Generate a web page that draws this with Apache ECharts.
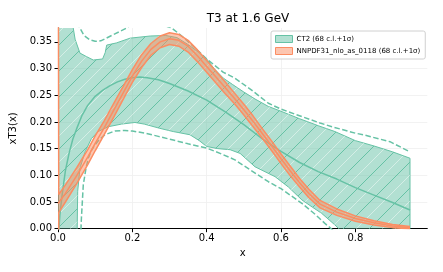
<!DOCTYPE html>
<html><head><meta charset="utf-8">
<script src="https://cdn.jsdelivr.net/npm/echarts@6/dist/echarts.min.js"></script>
<style>html,body{margin:0;padding:0;background:#fff}#c{width:443px;height:272px}</style>
</head><body><div id="c"></div>
<script>
// ---- tick labels ----
const xTicks = [0, 0.2, 0.4, 0.6, 0.8];
const xTickLabels = ['0.0', '0.2', '0.4', '0.6', '0.8'];
const yTicks = [0, 0.05, 0.1, 0.15, 0.2, 0.25, 0.3, 0.35];
const yTickLabels = ['0.00', '0.05', '0.10', '0.15', '0.20', '0.25', '0.30', '0.35'];

// ---- CT2 central ----
const ctCenX = [0.002, 0.005, 0.01, 0.015, 0.02, 0.03, 0.04, 0.05, 0.065, 0.08, 0.1, 0.12, 0.14, 0.16, 0.18, 0.2, 0.22, 0.24, 0.27, 0.3, 0.35, 0.4, 0.45, 0.5, 0.55, 0.6, 0.65, 0.7, 0.75, 0.8, 0.85, 0.9, 0.947];
const ctCenY = [-0.005, 0.025, 0.057, 0.084, 0.109, 0.142, 0.168, 0.187, 0.213, 0.231, 0.248, 0.259, 0.268, 0.275, 0.28, 0.283, 0.284, 0.283, 0.279, 0.272, 0.258, 0.241, 0.219, 0.195, 0.168, 0.145, 0.124, 0.107, 0.093, 0.077, 0.063, 0.049, 0.035];
// ---- CT2 68 c.l. band ----
const ctUpX = [0, 0.02, 0.035, 0.041, 0.046, 0.059, 0.075, 0.095, 0.12, 0.127, 0.131, 0.157, 0.194, 0.248, 0.29, 0.32, 0.35, 0.38, 0.4, 0.42, 0.445, 0.47, 0.5, 0.53, 0.566, 0.6, 0.65, 0.7, 0.745, 0.8, 0.85, 0.9, 0.947];
const ctUpY = [1.2, 0.7, 0.45, 0.376, 0.355, 0.329, 0.323, 0.316, 0.318, 0.33, 0.344, 0.348, 0.357, 0.361, 0.362, 0.358, 0.345, 0.33, 0.318, 0.3, 0.282, 0.27, 0.256, 0.243, 0.229, 0.22, 0.206, 0.193, 0.182, 0.165, 0.155, 0.144, 0.132];
const ctLoX = [0, 0.03, 0.051, 0.053, 0.059, 0.073, 0.09, 0.108, 0.135, 0.171, 0.207, 0.232, 0.274, 0.31, 0.355, 0.38, 0.4, 0.43, 0.463, 0.49, 0.53, 0.584, 0.62, 0.656, 0.685, 0.709, 0.745, 0.8, 0.9, 0.947];
const ctLoY = [-0.5, -0.3, -0.03, 0.07, 0.113, 0.144, 0.169, 0.182, 0.191, 0.196, 0.199, 0.196, 0.188, 0.182, 0.176, 0.165, 0.154, 0.15, 0.148, 0.141, 0.116, 0.0975, 0.078, 0.054, 0.04, 0.029, 0.007, -0.03, -0.08, -0.1];
// ---- CT2 1 sigma (dashed) ----
const ctSigUpX = [0, 0.03, 0.05, 0.059, 0.07, 0.085, 0.1, 0.115, 0.13, 0.153, 0.185, 0.2, 0.25, 0.297, 0.306, 0.34, 0.382, 0.4, 0.445, 0.476, 0.52, 0.566, 0.6, 0.656, 0.705, 0.737, 0.8, 0.821, 0.893, 0.947];
const ctSigUpY = [1.0, 0.5, 0.39, 0.376, 0.362, 0.354, 0.351, 0.352, 0.357, 0.365, 0.376, 0.385, 0.39, 0.378, 0.376, 0.357, 0.33, 0.318, 0.293, 0.282, 0.26, 0.235, 0.224, 0.21, 0.198, 0.191, 0.179, 0.176, 0.163, 0.144];
const ctSigLoX = [0, 0.04, 0.06, 0.063, 0.068, 0.075, 0.0815, 0.09, 0.0995, 0.11, 0.126, 0.153, 0.18, 0.2, 0.234, 0.27, 0.31, 0.35, 0.4, 0.44, 0.476, 0.52, 0.566, 0.6, 0.656, 0.69, 0.718, 0.74, 0.8, 0.947];
const ctSigLoY = [-0.6, -0.3, -0.03, 0.02, 0.082, 0.112, 0.132, 0.147, 0.157, 0.166, 0.176, 0.183, 0.184, 0.183, 0.179, 0.173, 0.166, 0.159, 0.151, 0.14, 0.129, 0.109, 0.088, 0.075, 0.0476, 0.028, 0.01, -0.003, -0.04, -0.12];

// ---- NNPDF31_nlo_as_0118 ----
const nnX   = [0, 0.002, 0.02, 0.05, 0.08, 0.1, 0.125, 0.15, 0.175, 0.2, 0.225, 0.25, 0.275, 0.3, 0.325, 0.35, 0.375, 0.4, 0.425, 0.45, 0.475, 0.5, 0.525, 0.55, 0.575, 0.6, 0.625, 0.65, 0.675, 0.705, 0.75, 0.8, 0.85, 0.9, 0.947];
const nnCen = [0.047, 0.047, 0.066, 0.099, 0.134, 0.16, 0.19, 0.222, 0.254, 0.286, 0.314, 0.336, 0.35, 0.356, 0.353, 0.342, 0.324, 0.304, 0.284, 0.264, 0.244, 0.223, 0.201, 0.178, 0.155, 0.131, 0.108, 0.086, 0.066, 0.046, 0.031, 0.019, 0.011, 0.005, 0.002];
const nnUp  = [0.9, 0.064, 0.082, 0.114, 0.148, 0.174, 0.203, 0.235, 0.266, 0.298, 0.326, 0.347, 0.361, 0.367, 0.364, 0.353, 0.335, 0.315, 0.295, 0.275, 0.254, 0.233, 0.211, 0.187, 0.164, 0.14, 0.117, 0.094, 0.074, 0.053, 0.037, 0.024, 0.015, 0.008, 0.004];
const nnLo  = [-0.5, 0.03, 0.05, 0.084, 0.12, 0.146, 0.177, 0.209, 0.242, 0.274, 0.302, 0.325, 0.339, 0.345, 0.342, 0.331, 0.313, 0.293, 0.273, 0.253, 0.234, 0.213, 0.191, 0.169, 0.146, 0.122, 0.099, 0.078, 0.058, 0.039, 0.025, 0.014, 0.007, 0.002, 0.0];

const ctName = 'CT2 (68 c.l.+1σ)';
const nnName = 'NNPDF31_nlo_as_0118 (68 c.l.+1σ)';
const GREEN = '#66c2a5', ORANGE = '#fc8d62';
const FONT = 'DejaVu Sans';

function hatch(lineColor, altColor, P) {
  const c = document.createElement('canvas');
  c.width = P; c.height = P;
  const g = c.getContext('2d');
  g.lineWidth = 1;
  if (altColor) {
    g.strokeStyle = altColor;
    for (let k = -1; k <= 2; k++) { g.beginPath(); g.moveTo(k * P - P / 2, P); g.lineTo(k * P + P / 2, 0); g.stroke(); }
  }
  g.strokeStyle = lineColor;
  for (let k = -1; k <= 1; k++) { g.beginPath(); g.moveTo(k * P, P); g.lineTo(k * P + P, 0); g.stroke(); }
  return c;
}
const greenHatch = hatch('rgba(102,194,165,1)', 'rgba(255,255,255,0.45)', 26);

function pairs(xs, ys) { return xs.map((x, i) => [x, ys[i]]); }

function band(name, xu, yu, xl, yl, fill, stroke, pattern, z) {
  return {
    type: 'custom', name: name, z: z, silent: true,
    data: [[0, 0]], encode: { x: 0, y: 1 },
    itemStyle: { color: fill },
    renderItem: function (params, api) {
      const pts = [];
      for (let i = 0; i < xu.length; i++) pts.push(api.coord([xu[i], yu[i]]));
      for (let i = xl.length - 1; i >= 0; i--) pts.push(api.coord([xl[i], yl[i]]));
      const cs = params.coordSys;
      const children = [{ type: 'polygon', shape: { points: pts }, style: { fill: fill, stroke: stroke, lineWidth: 1 } }];
      if (pattern) children.push({ type: 'polygon', shape: { points: pts }, style: { fill: { image: pattern, repeat: 'repeat' }, stroke: null } });
      return { type: 'group', clipPath: { type: 'rect', shape: { x: cs.x, y: cs.y, width: cs.width, height: cs.height } }, children: children };
    }
  };
}

function line(name, xs, ys, color, width, type, z) {
  return {
    type: 'line', name: name, data: pairs(xs, ys), showSymbol: false, symbol: 'none', silent: true, z: z,
    lineStyle: { color: color, width: width, type: type }, clip: true, animation: false
  };
}

const chart = echarts.init(document.getElementById('c'), null, { renderer: 'canvas' });
chart.setOption({
  animation: false,
  backgroundColor: '#fff',
  title: {
    text: 'T3 at 1.6 GeV', left: 243, top: 8, textAlign: 'center',
    textStyle: { fontFamily: FONT, fontSize: 12, fontWeight: 'normal', color: '#000' }
  },
  grid: { left: 58, right: 15.7, top: 28, bottom: 43.3, containLabel: false },
  legend: {
    orient: 'vertical', left: 271, top: 31, padding: [4, 5, 4, 4], itemGap: 4,
    itemWidth: 17, itemHeight: 7, borderColor: '#d0d0d0', borderWidth: 1, borderRadius: 2,
    backgroundColor: 'rgba(255,255,255,0.85)',
    textStyle: { fontFamily: FONT, fontSize: 7, color: '#000', padding: [0, 0, 0, -1] },
    data: [
      { name: ctName, icon: 'rect', itemStyle: { color: 'rgba(102,194,165,0.5)', borderColor: GREEN, borderWidth: 1 } },
      { name: nnName, icon: 'rect', itemStyle: { color: 'rgba(252,141,98,0.5)', borderColor: ORANGE, borderWidth: 1 } }
    ]
  },
  xAxis: {
    type: 'value', min: 0, max: 0.9935, interval: 0.2,
    name: 'x', nameLocation: 'middle', nameGap: 17,
    nameTextStyle: { fontFamily: FONT, fontSize: 10, color: '#000' },
    axisLine: { show: true, lineStyle: { color: '#000', width: 1 } },
    axisTick: { show: true, length: 3.5, lineStyle: { color: '#000' }, customValues: xTicks },
    axisLabel: { fontFamily: FONT, fontSize: 10, color: '#000', margin: 5, customValues: xTicks,
      formatter: v => { const i = xTicks.findIndex(t => Math.abs(t - v) < 1e-9); return i >= 0 ? xTickLabels[i] : ''; } },
    splitLine: { show: true, showMaxLine: false, lineStyle: { color: '#efefef', width: 0.8 } }
  },
  yAxis: {
    type: 'value', min: 0, max: 0.376, interval: 0.05,
    name: 'xT3(x)', nameLocation: 'middle', nameGap: 30, nameRotate: 90,
    nameTextStyle: { fontFamily: FONT, fontSize: 10, color: '#000' },
    axisLine: { show: true, lineStyle: { color: '#000', width: 1 } },
    axisTick: { show: true, length: 3.5, lineStyle: { color: '#000' }, customValues: yTicks },
    axisLabel: { fontFamily: FONT, fontSize: 10, color: '#000', margin: 6, customValues: yTicks,
      formatter: v => { const i = yTicks.findIndex(t => Math.abs(t - v) < 1e-9); return i >= 0 ? yTickLabels[i] : ''; } },
    splitLine: { show: true, showMaxLine: false, lineStyle: { color: '#efefef', width: 0.8 } }
  },
  series: [
    band(ctName, ctUpX, ctUpY, ctLoX, ctLoY, 'rgba(102,194,165,0.5)', GREEN, greenHatch, 2),
    line('ct-central', ctCenX, ctCenY, GREEN, 1.5, 'solid', 3),
    line('ct-sig-up', ctSigUpX, ctSigUpY, GREEN, 1.5, [5.5, 2.5], 3),
    line('ct-sig-lo', ctSigLoX, ctSigLoY, GREEN, 1.5, [5.5, 2.5], 3),
    band(nnName, nnX, nnUp, nnX, nnLo, 'rgba(252,141,98,0.5)', null, null, 4),
    line('nn-up', nnX, nnUp, ORANGE, 1.5, 'solid', 5),
    line('nn-lo', nnX, nnLo, ORANGE, 1.5, 'solid', 5),
    line('nn-central', nnX, nnCen, ORANGE, 1.5, 'solid', 5)
  ]
});
</script>
</body></html>
